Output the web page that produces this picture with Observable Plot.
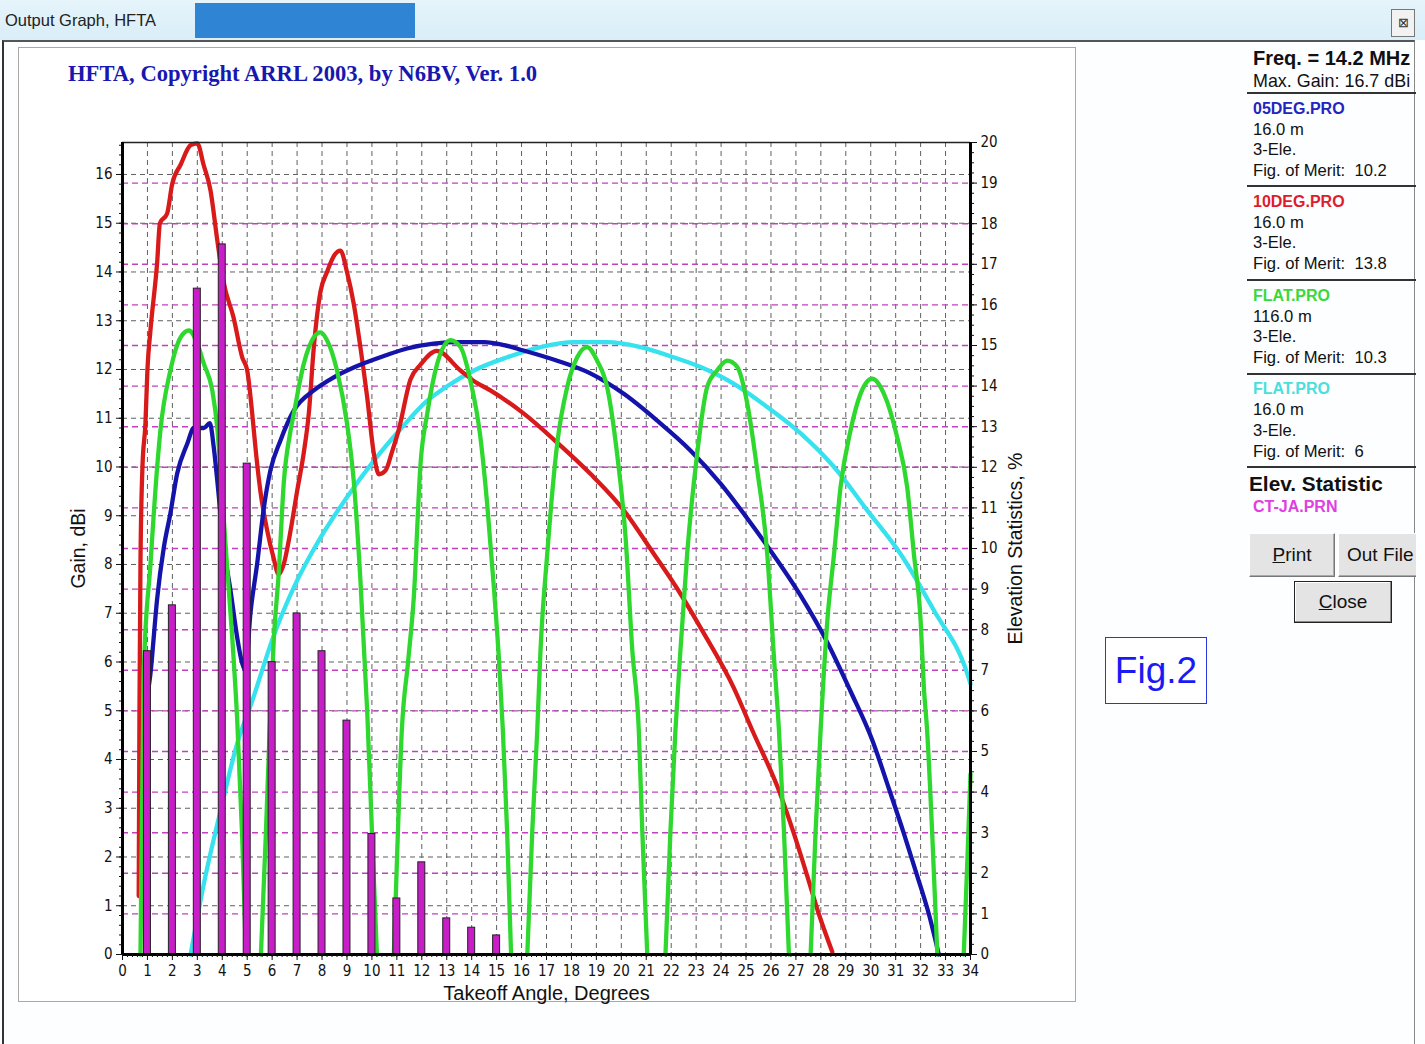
<!DOCTYPE html>
<html><head><meta charset="utf-8">
<script src="https://cdn.jsdelivr.net/npm/d3@7"></script>
<script src="https://cdn.jsdelivr.net/npm/@observablehq/plot@0.6"></script>
<style>
html,body{margin:0;padding:0}
body{width:1425px;height:1044px;overflow:hidden;position:relative;background:#fdfeff;font-family:"Liberation Sans",Arial,sans-serif;color:#111}
.abs{position:absolute}
#titlebar{left:0;top:0;width:1425px;height:40px;background:linear-gradient(#e6f4fb,#d9eef8)}
#tb-blue{left:195px;top:3px;width:220px;height:35px;background:#2f84d4}
#tb-text{left:5px;top:11px;font-size:16.5px;color:#222}
#tb-close{left:1391px;top:9px;width:22px;height:26px;border:1px solid #777;background:#f2f2f2;font-size:13px;line-height:26px;text-align:center;color:#333}
#body{left:2px;top:40px;width:1410px;height:1004px;border-left:2px solid #333;border-top:2px solid #555;border-right:1px solid #888;background:#fdfeff}
#panel{left:18px;top:47px;width:1056px;height:953px;border:1px solid #a8a8a8;background:#fff}
#ptitle{left:68px;top:61px;font-family:"Liberation Serif","Times New Roman",serif;font-weight:bold;font-size:22.6px;color:#1818b0;white-space:nowrap}
#chart{left:62px;top:122px}
#side{left:1240px;top:44px;width:176px;height:600px;overflow:hidden}
.row{position:absolute;left:13px;white-space:pre;line-height:20px;font-size:16.6px;color:#111}
.sep{position:absolute;left:7px;width:170px;height:0;border-top:2px solid #333}
.btn{position:absolute;background:#e4e4e4;border:1px solid;border-color:#fff #777 #777 #fff;box-shadow:inset -1px -1px 0 #aaa;font-size:19px;line-height:41px;color:#111;white-space:nowrap}
#fig{left:1105px;top:637px;width:100px;height:65px;border:1.5px solid #2a34e0;color:#1a1af5;font-size:37px;line-height:65px;text-align:center;background:#fff}
</style></head><body>
<div id="titlebar" class="abs"></div>
<div id="tb-blue" class="abs"></div>
<div id="tb-text" class="abs">Output Graph, HFTA</div>
<div id="tb-close" class="abs">&#x22A0;</div>
<div id="body" class="abs"></div>
<div id="panel" class="abs"></div>
<div id="ptitle" class="abs">HFTA, Copyright ARRL 2003, by N6BV, Ver. 1.0</div>
<div id="chart" class="abs"></div>
<div id="side" class="abs">
  <div class="row" style="top:4px;font-weight:bold;font-size:20px">Freq. = 14.2 MHz</div>
  <div class="row" style="top:27px;font-size:17.9px">Max. Gain: 16.7 dBi</div>
  <div class="sep" style="top:48px"></div>
  <div class="row" style="top:55px;color:#2424c0;font-weight:bold;font-size:16px">05DEG.PRO</div>
  <div class="row" style="top:76px">16.0 m</div>
  <div class="row" style="top:96px">3-Ele.</div>
  <div class="row" style="top:117px">Fig. of Merit:  10.2</div>
  <div class="sep" style="top:141px"></div>
  <div class="row" style="top:148px;color:#e01c2c;font-weight:bold;font-size:16px">10DEG.PRO</div>
  <div class="row" style="top:169px">16.0 m</div>
  <div class="row" style="top:189px">3-Ele.</div>
  <div class="row" style="top:210px">Fig. of Merit:  13.8</div>
  <div class="sep" style="top:235px"></div>
  <div class="row" style="top:242px;color:#3ad83a;font-weight:bold;font-size:16px">FLAT.PRO</div>
  <div class="row" style="top:263px">116.0 m</div>
  <div class="row" style="top:283px">3-Ele.</div>
  <div class="row" style="top:304px">Fig. of Merit:  10.3</div>
  <div class="sep" style="top:329px"></div>
  <div class="row" style="top:335px;color:#4adede;font-weight:bold;font-size:16px">FLAT.PRO</div>
  <div class="row" style="top:356px">16.0 m</div>
  <div class="row" style="top:377px">3-Ele.</div>
  <div class="row" style="top:398px">Fig. of Merit:  6</div>
  <div class="sep" style="top:422px"></div>
  <div class="row" style="top:430px;left:9px;font-weight:bold;font-size:20.8px">Elev. Statistic</div>
  <div class="row" style="top:453px;color:#e040e0;font-weight:bold;font-size:16px">CT-JA.PRN</div>
  <div class="btn" style="left:9px;top:489px;width:84px;height:42px;text-align:center"><u>P</u>rint</div>
  <div class="btn" style="left:98px;top:489px;width:90px;height:42px;padding-left:8px"><span>Out File</span></div>
  <div class="btn" style="left:54px;top:537px;width:96px;height:40px;line-height:40px;text-align:center;border:1px solid #222;box-shadow:inset -1px -1px 0 #888, inset 1px 1px 0 #fff"><u>C</u>lose</div>
</div>
<div id="fig" class="abs">Fig.2</div>
<script>
// ---------- data ----------
const angleTicks = d3.range(0, 35);          // takeoff angle, degrees
const gainTicks = d3.range(0, 17);           // gain, dBi
const statTicks = d3.range(0, 21);           // elevation statistics, %
const gainMax = 16.656;                      // top of gain axis (Max. Gain 16.7 dBi)
const statMax = 20;

// Elevation statistics CT-JA.PRN (% of openings)
const statAngle = [1, 2, 3, 4, 5, 6, 7, 8, 9, 10, 11, 12, 13, 14, 15];
const statPct = [7.47, 8.6, 16.4, 17.49, 12.09, 7.2, 8.4, 7.47, 5.76, 2.97, 1.38, 2.27, 0.89, 0.66, 0.47];

// 05DEG.PRO (blue)
const blueAngle = [0.85,0.88,1.15,1.39,1.66,1.92,2.19,2.6,2.86,3.26,3.5,3.66,3.8,4.06,4.33,4.6,4.8,4.93,5.13,5.4,5.67,5.93,6.33,6.87,7.67,8.47,9.27,10.34,11.41,12.47,13.5,14.5,15.3,16.08,17.43,18.76,20.1,21.44,22.77,23.98,25.0,25.85,27.19,28.26,29.19,30.06,30.73,31.33,31.86,32.33,32.73];
const blueGain = [3.1,4.5,5.9,7.3,8.36,9.05,9.86,10.48,10.8,10.8,10.9,10.4,9.72,8.36,7.47,6.5,5.97,5.83,7.0,8.02,9.17,9.93,10.54,11.16,11.57,11.84,12.04,12.25,12.43,12.53,12.56,12.56,12.5,12.39,12.18,11.92,11.5,10.95,10.34,9.66,8.98,8.38,7.36,6.4,5.4,4.4,3.4,2.48,1.62,0.83,0];

// 10DEG.PRO (red)
const redAngle = [0.65,0.68,0.72,0.8,0.92,1.0,1.12,1.39,1.5,1.79,1.99,2.33,2.73,3.0,3.25,3.53,3.8,4.05,4.45,4.8,5.0,5.2,5.35,5.53,5.8,6.05,6.26,6.46,6.74,7.0,7.27,7.47,7.67,7.94,8.2,8.5,8.74,9.0,9.27,9.54,9.81,10.07,10.28,10.55,10.8,11.07,11.55,11.95,12.6,13.55,14.07,14.75,16.08,17.43,18.76,20.04,21.3,22.37,23.18,24.5,25.25,26.36,26.92,27.45,27.92,28.46];
const redGain = [1.2,5.0,8.0,10.0,10.9,12.0,12.8,14.2,15.0,15.2,15.8,16.2,16.6,16.64,16.2,15.67,14.65,13.8,13.07,12.25,11.98,11.1,10.3,9.5,8.7,8.15,7.8,8.0,8.7,9.5,10.3,11.1,12.45,13.6,14.0,14.35,14.44,14.0,13.35,12.45,11.43,10.3,9.85,9.93,10.3,10.75,11.8,12.1,12.38,11.98,11.77,11.57,11.1,10.5,9.86,9.15,8.22,7.4,6.7,5.48,4.6,3.31,2.48,1.62,0.83,0.05];

// FLAT.PRO 116 m (green), lobes separated by null
const greenAngle = [
  0.72,0.79,0.86,1.12,1.39,1.52,1.92,2.33,2.66,3.0,3.26,3.6,3.8,4.0,4.2,4.4,4.6,4.8,4.95, null,
  5.55,5.75,5.9,6.07,6.26,6.47,6.74,6.87,7.27,7.67,7.94,8.2,8.6,9.0,9.27,9.54,9.81,10.0,10.2, null,
  10.88,11.0,11.2,11.45,11.68,11.95,12.22,12.62,13.15,13.55,13.95,14.35,14.62,14.89,15.1,15.25,15.42,15.58, null,
  16.23,16.43,16.63,16.76,17.03,17.43,17.83,18.23,18.63,19.03,19.43,19.83,20.17,20.44,20.7,20.84,21.04, null,
  21.77,21.97,22.17,22.37,22.64,23.04,23.44,23.84,24.25,24.65,25.05,25.45,25.85,26.11,26.32,26.52,26.72, null,
  27.59,27.79,27.99,28.26,28.53,28.79,29.19,29.59,30.06,30.53,31.06,31.46,31.73,32.0,32.13,32.26,32.46,32.67, null,
  33.73,33.87,34.0];
const greenGain = [
  0,3.2,5.9,8.0,10.0,10.75,11.98,12.66,12.8,12.53,12.12,11.57,10.8,9.4,7.9,6.5,4.8,2.4,0, null,
  0,2.5,4.6,6.5,7.8,9.7,10.75,11.1,12.12,12.66,12.76,12.6,11.98,10.9,9.72,7.67,5.0,2.54,0, null,
  0,1.87,4.6,6.0,7.33,10.07,11.1,12.12,12.6,12.46,11.77,10.61,9.25,7.53,6.0,4.6,2.54,0, null,
  0,2.54,4.6,6.24,8.22,10.48,11.64,12.25,12.46,12.18,11.64,10.27,8.56,6.24,4.6,2.54,0, null,
  0,2.54,4.6,6.24,8.22,10.27,11.64,11.98,12.18,12.05,11.3,9.93,8.22,6.17,4.6,2.54,0, null,
  0,2.54,4.6,6.85,8.22,9.59,10.75,11.5,11.81,11.5,10.61,9.59,8.22,6.85,5.48,4.6,2.54,0, null,
  0,1.87,3.7];

// FLAT.PRO 16 m (cyan)
const cyanAngle = [2.73,3.26,3.93,4.6,5.2,6.07,6.87,7.94,9.0,10.08,11.15,12.2,13.0,14.09,15.42,16.76,18.1,19.43,20.77,22.1,23.18,24.5,25.85,27.19,28.53,29.86,31.19,32.53,33.87,34.0];
const cyanGain = [0,1.45,2.95,4.33,5.2,6.55,7.53,8.55,9.38,10.13,10.78,11.35,11.65,11.98,12.25,12.46,12.56,12.56,12.46,12.25,12.05,11.71,11.23,10.69,10.0,9.11,8.22,7.06,5.76,5.55];

// ---------- build ----------
const k = gainMax / statMax; // % -> gain-axis units (shared vertical extent)
const pts = (xs, ys) => xs.map((x, i) => ({x, y: ys[i]}));
const stats = statAngle.map((a, i) => ({a, p: statPct[i]}));
const tickFont = '"Liberation Sans Narrow","DejaVu Sans Condensed","Liberation Sans",sans-serif';
const labelFont = '"Liberation Sans",Arial,sans-serif';
const lw = 4.3;

const chart = Plot.plot({
  width: 960, height: 880,
  marginLeft: 60, marginRight: 52, marginTop: 20, marginBottom: 48,
  x: {domain: [0, 34]},
  y: {domain: [0, gainMax]},
  style: {fontFamily: tickFont, fontSize: "15px", color: "#111", background: "transparent", overflow: "visible"},
  marks: [
    // grids
    Plot.ruleX(angleTicks.slice(1, -1), {stroke: "#606060", strokeDasharray: "5,4", strokeWidth: 1}),
    Plot.ruleY(gainTicks.slice(1), {stroke: "#606060", strokeDasharray: "5,4", strokeWidth: 1}),
    Plot.ruleY(statTicks.slice(1, -1), {y: d => d * k, stroke: "#c040c0", strokeDasharray: "6,4", strokeWidth: 1.4}),
    // curves
    Plot.line(pts(cyanAngle, cyanGain), {x: "x", y: "y", stroke: "#36e2ee", strokeWidth: lw, curve: "monotone-x"}),
    Plot.line(pts(redAngle, redGain), {x: "x", y: "y", stroke: "#d81a1a", strokeWidth: lw, curve: "monotone-x"}),
    Plot.line(pts(blueAngle, blueGain), {x: "x", y: "y", stroke: "#1414aa", strokeWidth: lw, curve: "monotone-x"}),
    Plot.line(pts(greenAngle, greenGain), {x: "x", y: "y", stroke: "#2ed82e", strokeWidth: lw, curve: "monotone-x"}),
    // elevation statistics bars
    Plot.rectY(stats, {x1: d => d.a - 0.14, x2: d => d.a + 0.14, y1: 0, y2: d => d.p * k, fill: "#c81ec8", stroke: "#222", strokeWidth: 1}),
    // frame
    Plot.ruleY([gainMax], {stroke: "#222", strokeWidth: 1.5}),
    Plot.ruleX([0], {stroke: "#000", strokeWidth: 3}),
    Plot.ruleX([34], {stroke: "#000", strokeWidth: 3}),
    Plot.ruleY([0], {stroke: "#000", strokeWidth: 3}),
    // axes
    Plot.axisX(angleTicks, {anchor: "bottom", tickSize: 6, tickPadding: 5, label: null}),
    Plot.axisX(d3.range(0, 34.001, 0.2), {anchor: "bottom", tickSize: 3, tickFormat: () => "", label: null}),
    Plot.axisY(gainTicks, {anchor: "left", tickSize: 6, tickPadding: 4, label: null}),
    Plot.axisY(d3.range(0, 16.61, 0.2), {anchor: "left", tickSize: 3, tickFormat: () => "", label: null}),
    Plot.axisY(statTicks.map(p => p * k), {anchor: "right", tickSize: 6, tickPadding: 4, tickFormat: d => String(Math.round(d / k)), label: null}),
    Plot.axisY(d3.range(0, 20.001, 0.25).map(p => p * k), {anchor: "right", tickSize: 3, tickFormat: () => "", label: null}),
    // axis titles
    Plot.text(["Gain, dBi"], {frameAnchor: "left", dx: -44, rotate: -90, textAnchor: "middle", fontSize: 19.5, fontFamily: labelFont, fill: "#111"}),
    Plot.text(["Elevation Statistics, %"], {frameAnchor: "right", dx: 45, rotate: -90, textAnchor: "middle", fontSize: 19.5, fontFamily: labelFont, fill: "#111"}),
    Plot.text(["Takeoff Angle, Degrees"], {frameAnchor: "bottom", dy: 45, textAnchor: "middle", fontSize: 20, fontFamily: labelFont, fill: "#111"})
  ]
});
document.getElementById("chart").appendChild(chart);
</script>
</body></html>
